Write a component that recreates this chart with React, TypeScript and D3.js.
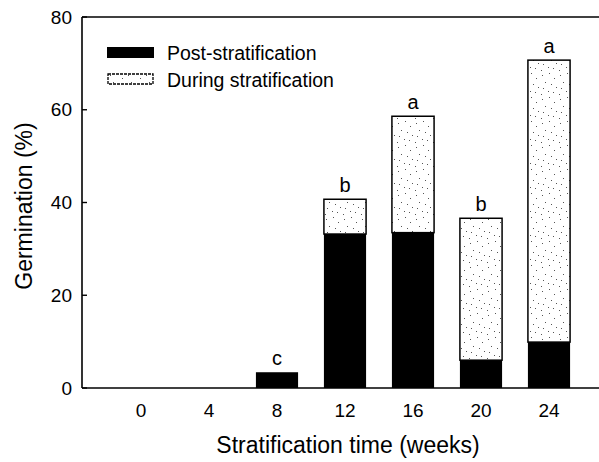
import React from 'react';
import * as d3 from 'd3';

// Stratification weeks and germination components (%)
const weeks = ['0', '4', '8', '12', '16', '20', '24'];
const postStrat = [0, 0, 3.4, 33.2, 33.5, 6.0, 9.9];
const duringStrat = [0, 0, 0, 7.5, 25.1, 30.6, 60.8];
const letters = ['', '', 'c', 'b', 'a', 'b', 'a'];
const yTicks = [0, 20, 40, 60, 80];

const W = 599;
const H = 462;
const font = '"Liberation Sans", Arial, sans-serif';

const App = () => {
  const x = d3.scaleBand().domain(weeks).range([107, 583]).paddingInner(0.38).paddingOuter(0.19);
  const y = d3.scaleLinear().domain([0, 80]).range([388, 17]);
  const axisLeft = 82;

  // fixed stipple dots for the "during" pattern
  const dots = [
    [2, 3], [9, 1], [14, 6], [5, 10], [11, 12], [3, 16], [16, 15], [8, 19], [13, 20], [1, 22]
  ];

  return (
    <svg width={W} height={H} style={{ display: 'block', position: 'absolute', left: 0, top: 0, background: '#fff' }}>
      <defs>
        <pattern id="stipple" width="18" height="24" patternUnits="userSpaceOnUse">
          <rect width="18" height="24" fill="#fff" />
          {dots.map(([cx, cy], i) => (
            <rect key={i} x={cx} y={cy} width="1" height="1" fill="#555" />
          ))}
        </pattern>
      </defs>

      {/* frame: left axis, top line, baseline */}
      <line x1={axisLeft} x2={axisLeft} y1={y(80)} y2={y(0)} stroke="#000" strokeWidth={1.6} />
      <line x1={axisLeft} x2={W} y1={y(80)} y2={y(80)} stroke="#000" strokeWidth={1.4} />
      <line x1={axisLeft} x2={W} y1={y(0)} y2={y(0)} stroke="#000" strokeWidth={1.4} />

      {/* y ticks */}
      {yTicks.map(t => (
        <g key={t}>
          <line x1={axisLeft} x2={axisLeft + 5} y1={y(t)} y2={y(t)} stroke="#000" strokeWidth={1.4} />
          <text x={axisLeft - 10} y={y(t)} dy="0.35em" textAnchor="end" fontFamily={font} fontSize={19}>
            {t}
          </text>
        </g>
      ))}

      {/* bars */}
      {weeks.map((w, i) => {
        const bx = x(w) as number;
        const bw = x.bandwidth();
        const total = postStrat[i] + duringStrat[i];
        return (
          <g key={w}>
            {duringStrat[i] > 0 && (
              <rect
                x={bx}
                y={y(total)}
                width={bw}
                height={y(postStrat[i]) - y(total)}
                fill="url(#stipple)"
                stroke="#000"
                strokeWidth={1.5}
              />
            )}
            {postStrat[i] > 0 && (
              <rect x={bx} y={y(postStrat[i])} width={bw} height={y(0) - y(postStrat[i])} fill="#000" />
            )}
            {letters[i] && (
              <text
                x={bx + bw / 2}
                y={y(total) - 7}
                textAnchor="middle"
                fontFamily={font}
                fontSize={20}
              >
                {letters[i]}
              </text>
            )}
            <text x={bx + bw / 2} y={417} textAnchor="middle" fontFamily={font} fontSize={19}>
              {w}
            </text>
          </g>
        );
      })}

      {/* legend */}
      <rect x={107} y={47} width={47} height={11} fill="#000" />
      <text x={167} y={53} dy="0.35em" fontFamily={font} fontSize={19.5}>
        Post-stratification
      </text>
      <rect x={108} y={74} width={45} height={10} fill="url(#stipple)" stroke="#000" strokeWidth={1.3} strokeDasharray="3 1" />
      <text x={167} y={80} dy="0.35em" fontFamily={font} fontSize={19.5}>
        During stratification
      </text>

      {/* axis titles */}
      <text
        transform={`translate(24, ${206}) rotate(-90)`}
        textAnchor="middle"
        dy="0.35em"
        fontFamily={font}
        fontSize={23}
      >
        Germination (%)
      </text>
      <text x={348} y={453} textAnchor="middle" fontFamily={font} fontSize={23}>
        Stratification time (weeks)
      </text>
    </svg>
  );
};

export default App;
